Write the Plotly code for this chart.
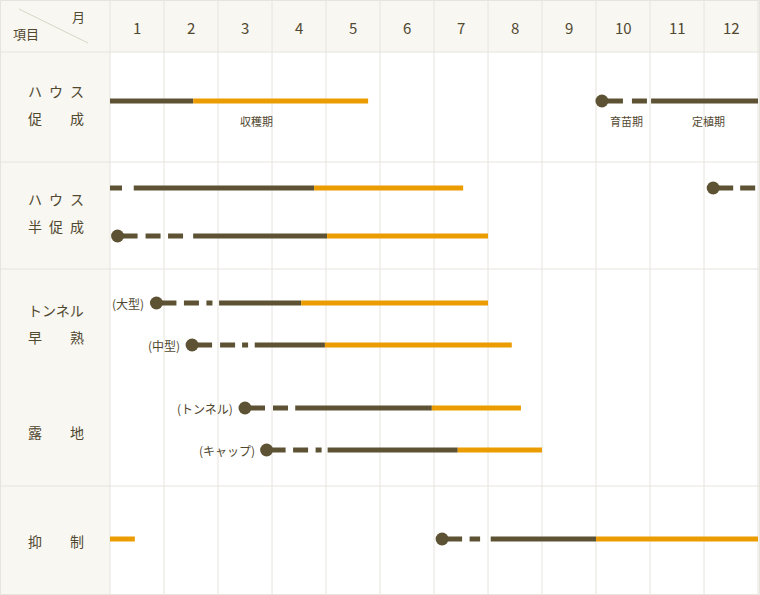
import plotly.graph_objects as go

# ---------------- data ----------------
months = [str(i) for i in range(1, 13)]

row_names = ["ハウス促成", "ハウス半促成", "トンネル早熟", "露地", "抑制"]
row_label_lines = [
    ["ハ\u2002ウ\u2002ス", "促\u3000\u3000成"],
    ["ハ\u2002ウ\u2002ス", "半\u2002促\u2002成"],
    ["トンネル", "早\u3000\u3000熟"],
    ["露\u3000\u3000地"],
    ["抑\u3000\u3000制"],
]

line_ids = ["促成", "半促成A", "半促成B", "大型", "中型", "トンネル", "キャップ", "抑制"]
sub_labels = {"大型": "(大型)", "中型": "(中型)", "トンネル": "(トンネル)", "キャップ": "(キャップ)"}

# segments in month units (0 = start of January, 12 = end of December)
seg_line = ["促成", "促成", "促成", "促成",
            "半促成A", "半促成A", "半促成A", "半促成A",
            "半促成B", "半促成B", "半促成B",
            "大型", "大型", "大型",
            "中型", "中型", "中型",
            "トンネル", "トンネル", "トンネル",
            "キャップ", "キャップ", "キャップ",
            "抑制", "抑制", "抑制", "抑制"]
seg_kind = ["grow", "harvest", "nursery", "grow",
            "nursery", "grow", "harvest", "nursery",
            "nursery", "grow", "harvest",
            "nursery", "grow", "harvest",
            "nursery", "grow", "harvest",
            "nursery", "grow", "harvest",
            "nursery", "grow", "harvest",
            "harvest", "nursery", "grow", "harvest"]
seg_start = [0.0, 1.54, 9.11, 10.02,
             0.0, 0.44, 3.78, 11.17,
             0.14, 1.54, 4.02,
             0.86, 2.02, 3.54,
             1.52, 2.68, 3.98,
             2.50, 3.43, 5.96,
             2.90, 4.03, 6.44,
             0.0, 6.15, 7.05, 9.0]
seg_end = [1.54, 4.78, 10.02, 12.0,
           0.44, 3.78, 6.54, 12.0,
           1.54, 4.02, 7.0,
           2.02, 3.54, 7.0,
           2.68, 3.98, 7.44,
           3.43, 5.96, 7.61,
           4.03, 6.44, 8.0,
           0.46, 7.05, 9.0, 12.0]

# sowing points (circles)
dot_line = ["促成", "半促成A", "半促成B", "大型", "中型", "トンネル", "キャップ", "抑制"]
dot_x = [9.11, 11.17, 0.14, 0.86, 1.52, 2.50, 2.90, 6.15]

# period labels
period_text = ["収穫期", "育苗期", "定植期"]
period_x = [2.72, 9.56, 11.09]

# ---------------- layout / style ----------------
W, H = 760, 595
X0, MW = 110, 54
HEADER_H = 52
row_bounds = [52, 162, 269, 486, 595]
row_label_y = [[91, 118], [199, 226], [310, 337], [432], [541]]
line_y = {"促成": 101, "半促成A": 188, "半促成B": 236, "大型": 303,
          "中型": 345, "トンネル": 408, "キャップ": 450, "抑制": 539}
period_y = 121

DARK = "#5d5334"
ORANGE = "#eb9c00"
BG = "#f8f7f2"
GRID = "#e6e4dd"
TEXT = "#514830"
FONT = "Noto Sans CJK JP"

nursery_dash = {
    ("促成", 9.11): "21px,9px,15px,300px",
    ("半促成A", 0.0): "12px,300px",
    ("半促成A", 11.17): "20px,7px,15px,300px",
    ("半促成B", 0.14): "20px,8px,15px,7.5px,15px,300px",
    ("大型", 0.86): "20px,7.5px,15px,7.5px,6px,300px",
    ("中型", 1.52): "20px,8px,15px,7px,6px,300px",
    ("トンネル", 2.50): "20px,8px,15px,300px",
    ("キャップ", 2.90): "19px,7.5px,15px,7.5px,6px,300px",
    ("抑制", 6.15): "20px,7.5px,10.5px,300px",
}

fig = go.Figure()

# draw dark segments first, then orange on top
order = sorted(range(len(seg_line)), key=lambda i: 1 if seg_kind[i] == "harvest" else 0)
for i in order:
    ln, kind, s, e = seg_line[i], seg_kind[i], seg_start[i], seg_end[i]
    y = line_y[ln]
    if kind == "harvest":
        line = dict(color=ORANGE, width=5)
    elif kind == "grow":
        line = dict(color=DARK, width=5)
    else:
        line = dict(color=DARK, width=5, dash=nursery_dash[(ln, s)])
    fig.add_trace(go.Scatter(x=[s, e], y=[y, y], mode="lines", line=line,
                             hoverinfo="skip", showlegend=False))

fig.add_trace(go.Scatter(x=dot_x, y=[line_y[l] for l in dot_line], mode="markers",
                         marker=dict(color=DARK, size=13, line=dict(width=0)),
                         hoverinfo="skip", showlegend=False))

shapes = []
# backgrounds
shapes.append(dict(type="rect", xref="paper", yref="paper", x0=0, x1=X0 / W, y0=0, y1=1,
                   fillcolor=BG, line=dict(width=0), layer="below"))
shapes.append(dict(type="rect", xref="paper", yref="y", x0=0, x1=1, y0=0, y1=HEADER_H,
                   fillcolor=BG, line=dict(width=0), layer="below"))
# vertical grid lines
for m in range(0, 13):
    shapes.append(dict(type="line", xref="x", yref="paper", x0=m, x1=m, y0=0, y1=1,
                       line=dict(color=GRID, width=1), layer="below"))
# horizontal lines
for yb in row_bounds[:-1]:
    shapes.append(dict(type="line", xref="paper", yref="y", x0=0, x1=1, y0=yb, y1=yb,
                       line=dict(color=GRID, width=1), layer="below"))
# outer border
shapes.append(dict(type="rect", xref="paper", yref="paper", x0=0.5 / W, x1=1 - 0.5 / W,
                   y0=0.5 / H, y1=1 - 0.5 / H, line=dict(color=GRID, width=1),
                   fillcolor="rgba(0,0,0,0)", layer="below"))
# diagonal in corner cell
shapes.append(dict(type="line", xref="paper", yref="y", x0=19 / W, x1=88 / W, y0=9, y1=43,
                   line=dict(color="#d9d5c6", width=1), layer="below"))

ann = []
for i, m in enumerate(months):
    ann.append(dict(x=i + 0.5, y=27, xref="x", yref="y", text=m, showarrow=False,
                    font=dict(family=FONT, size=15, color=TEXT), xanchor="center", yanchor="middle"))
ann.append(dict(x=78.5 / W, y=16, xref="paper", yref="y", text="月", showarrow=False,
                font=dict(family=FONT, size=13, color=TEXT), xanchor="center", yanchor="middle"))
ann.append(dict(x=25.5 / W, y=33, xref="paper", yref="y", text="項目", showarrow=False,
                font=dict(family=FONT, size=13, color=TEXT), xanchor="center", yanchor="middle"))

for lines, ys in zip(row_label_lines, row_label_y):
    for t, yy in zip(lines, ys):
        ann.append(dict(x=55.5 / W, y=yy, xref="paper", yref="y", text=t, showarrow=False,
                        font=dict(family=FONT, size=14, color=TEXT), xanchor="center", yanchor="middle"))

for ln, xx in zip(dot_line, dot_x):
    if ln in sub_labels:
        ann.append(dict(x=xx, y=line_y[ln], xref="x", yref="y", text=sub_labels[ln], showarrow=False,
                        xshift=-10, font=dict(family=FONT, size=12, color=TEXT),
                        xanchor="right", yanchor="middle"))

for t, xx in zip(period_text, period_x):
    ann.append(dict(x=xx, y=period_y, xref="x", yref="y", text=t, showarrow=False,
                    font=dict(family=FONT, size=11, color=TEXT), xanchor="center", yanchor="middle"))

fig.update_layout(
    width=W, height=H, autosize=False,
    margin=dict(l=0, r=0, t=0, b=0, pad=0),
    paper_bgcolor="white", plot_bgcolor="white",
    xaxis=dict(range=[-X0 / MW, (W - X0) / MW], visible=False, fixedrange=True),
    yaxis=dict(range=[H, 0], visible=False, fixedrange=True),
    shapes=shapes, annotations=ann, showlegend=False,
)

fig.write_html("out.html", config={"displayModeBar": False})
